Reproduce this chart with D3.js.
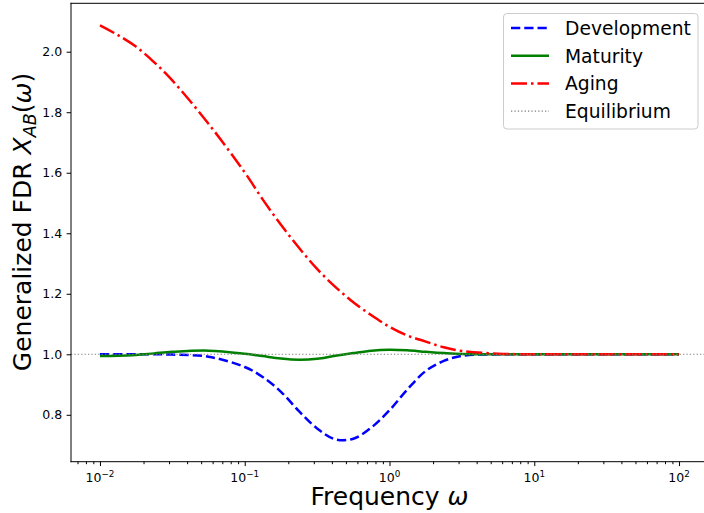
<!DOCTYPE html>
<html>
<head>
<meta charset="utf-8">
<script src="https://cdn.jsdelivr.net/npm/d3@7/dist/d3.min.js"></script>
<style>
	body { margin: 0; background: #fff; }
	svg text { font-family: "DejaVu Sans", sans-serif; fill: #000; }
</style>
</head>
<body>
<svg id="vis" width="704" height="513"></svg>
<script>
const freq = [0.01, 0.0133, 0.0178, 0.0237, 0.0316, 0.0562, 0.1, 0.133, 0.178, 0.237, 0.316, 0.422,
	0.562, 0.75, 1, 1.33, 1.78, 2.37, 3.16, 5.62, 10, 31.6, 100];

// generalized FDR for each stage
const development = [1.000, 1.000, 1.000, 1.000, 0.999, 0.992, 0.958, 0.925, 0.876, 0.812, 0.755, 0.719,
	0.721, 0.758, 0.815, 0.884, 0.945, 0.978, 0.995, 1.000, 1.000, 1.000, 1.000];
const maturity = [0.994, 0.995, 0.998, 1.003, 1.008, 1.012, 1.002, 0.994, 0.986, 0.982, 0.985, 0.995,
	1.004, 1.012, 1.015, 1.013, 1.008, 1.004, 1.001, 1.000, 1.000, 1.000, 1.000];
const aging = [2.087, 2.055, 2.016, 1.965, 1.905, 1.762, 1.601, 1.512, 1.428, 1.352, 1.282, 1.223,
	1.172, 1.129, 1.091, 1.062, 1.042, 1.023, 1.011, 1.002, 1.000, 1.000, 1.000];
const equilibrium = 1.0;

const seriesNames = ["Development", "Maturity", "Aging", "Equilibrium"];
const xTicks = [0.01, 0.1, 1, 10, 100];
const xTickExps = ["\u22122", "\u22121", "0", "1", "2"];
const yTicks = [0.8, 1.0, 1.2, 1.4, 1.6, 1.8, 2.0];

// line styles (matplotlib look at ~90dpi)
const styles = [
	{color: "#0000ff", width: 2.5, dash: "9.25,4"},
	{color: "#008000", width: 2.5, dash: null},
	{color: "#ff0000", width: 2.5, dash: "16,4,2.5,4"},
	{color: "#808080", width: 1.1, dash: "1.3,2.1"}
];

const svg = d3.select("svg#vis");

const plot = {left: 71, right: 708, top: 3.3, bottom: 461.7};

const x = d3.scaleLog()
	.domain([Math.pow(10, -2.2), Math.pow(10, 2.2)])
	.range([plot.left, plot.right]);

const y = d3.scaleLinear()
	.domain([0.645, 2.160])
	.range([plot.bottom, plot.top]);

// curves
const line = d3.line()
	.x(d => x(d[0]))
	.y(d => y(d[1]))
	.curve(d3.curveCatmullRom.alpha(0.5));

const curves = [development, maturity, aging];

svg.append("g").attr("id", "curves")
	.selectAll("path")
	.data(curves)
	.enter()
	.append("path")
	.attr("d", vals => line(freq.map((f, i) => [f, vals[i]])))
	.attr("fill", "none")
	.attr("stroke", (d, i) => styles[i].color)
	.attr("stroke-width", (d, i) => styles[i].width)
	.attr("stroke-dasharray", (d, i) => styles[i].dash);

// equilibrium line spans the whole axes
svg.append("line")
	.attr("x1", plot.left).attr("x2", plot.right)
	.attr("y1", y(equilibrium)).attr("y2", y(equilibrium))
	.attr("stroke", styles[3].color)
	.attr("stroke-width", styles[3].width)
	.attr("stroke-dasharray", styles[3].dash);

// y axis
const yAxis = svg.append("g")
	.attr("transform", translate(plot.left, 0))
	.call(d3.axisLeft(y)
		.tickValues(yTicks)
		.tickFormat(d3.format(".1f"))
		.tickSize(4.4)
		.tickPadding(4.4)
		.tickSizeOuter(0));
yAxis.select(".domain").remove();
yAxis.selectAll("text")
	.style("font-size", "12.5px")
	.attr("font-family", null);

// x axis, major + minor ticks
let minor = [];
for (let e = -3; e <= 2; e++) {
	for (let m = 2; m <= 9; m++) {
		const v = m * Math.pow(10, e);
		if (v >= x.domain()[0] && v <= x.domain()[1]) minor.push(v);
	}
}

const xMinor = svg.append("g")
	.attr("transform", translate(0, plot.bottom))
	.call(d3.axisBottom(x).tickValues(minor).tickFormat("").tickSize(2.5).tickSizeOuter(0));
xMinor.select(".domain").remove();

const xAxis = svg.append("g")
	.attr("transform", translate(0, plot.bottom))
	.call(d3.axisBottom(x).tickValues(xTicks).tickFormat("").tickSize(4.4).tickSizeOuter(0));
xAxis.select(".domain").remove();

const xLabels = svg.append("g").selectAll("text")
	.data(xTicks)
	.enter()
	.append("text")
	.attr("x", d => x(d))
	.attr("y", 482)
	.attr("text-anchor", "middle")
	.style("font-size", "12.5px");
xLabels.append("tspan").text("10");
xLabels.append("tspan")
	.attr("dy", -5.5)
	.style("font-size", "8.8px")
	.text((d, i) => xTickExps[i]);

// spines
svg.selectAll("line.spine")
	.data([
		[plot.left, plot.top, plot.right, plot.top],
		[plot.left, plot.bottom, plot.right, plot.bottom],
		[plot.left, plot.top, plot.left, plot.bottom],
		[plot.right, plot.top, plot.right, plot.bottom]
	])
	.enter()
	.append("line")
	.attr("class", "spine")
	.attr("x1", d => d[0]).attr("y1", d => d[1])
	.attr("x2", d => d[2]).attr("y2", d => d[3])
	.attr("stroke", "#000")
	.attr("stroke-width", 1)
	.attr("stroke-linecap", "square");

// axis labels
const xLabel = svg.append("text")
	.attr("x", (plot.left + plot.right) / 2)
	.attr("y", 505)
	.attr("text-anchor", "middle")
	.style("font-size", "25px");
xLabel.append("tspan").text("Frequency ");
xLabel.append("tspan").style("font-style", "italic").text("\u03c9");

const yLabel = svg.append("text")
	.attr("transform", translate(31, 222) + " rotate(-90)")
	.attr("text-anchor", "middle")
	.style("font-size", "25px");
yLabel.append("tspan").text("Generalized FDR ");
yLabel.append("tspan").style("font-style", "italic").text("X");
yLabel.append("tspan").attr("dy", 5).style("font-style", "italic").style("font-size", "17.5px").text("AB");
yLabel.append("tspan").attr("dy", -5).text("(");
yLabel.append("tspan").style("font-style", "italic").text("\u03c9");
yLabel.append("tspan").text(")");

// legend
const legend = svg.append("g").attr("id", "legend");
legend.append("rect")
	.attr("x", 503.5).attr("y", 13.5)
	.attr("width", 194.5).attr("height", 115.5)
	.attr("rx", 3.5)
	.attr("fill", "#fff")
	.attr("fill-opacity", 0.8)
	.attr("stroke", "#cccccc")
	.attr("stroke-width", 1);

const rows = legend.selectAll("g.row")
	.data(seriesNames)
	.enter()
	.append("g")
	.attr("class", "row")
	.attr("transform", (d, i) => translate(0, 28 + i * 27.7));

rows.append("line")
	.attr("x1", 511).attr("x2", 549)
	.attr("y1", 0).attr("y2", 0)
	.attr("stroke", (d, i) => styles[i].color)
	.attr("stroke-width", (d, i) => styles[i].width)
	.attr("stroke-dasharray", (d, i) => styles[i].dash);

rows.append("text")
	.attr("x", 565)
	.attr("y", 6.8)
	.style("font-size", "18.7px")
	.text(d => d);

//Helper functions
function translate(x, y) {
	return 'translate(' + x + ',' + y + ')';
}
</script>
</body>
</html>
